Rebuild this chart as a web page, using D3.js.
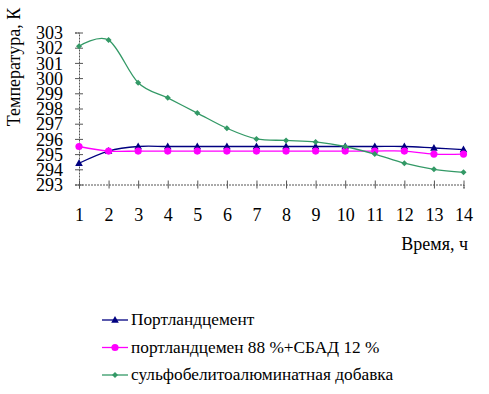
<!DOCTYPE html>
<html>
<head>
<meta charset="utf-8">
<script src="https://cdn.jsdelivr.net/npm/d3@7"></script>
<style>
  body { margin: 0; background: #fff; }
</style>
</head>
<body>
<div id="chart"></div>
<script>
var width = 489,
    height = 394;

var serif = "'Liberation Serif'";

var hours = [1, 2, 3, 4, 5, 6, 7, 8, 9, 10, 11, 12, 13, 14];
var yTicks = [293, 294, 295, 296, 297, 298, 299, 300, 301, 302, 303];

var portland = [294.4, 295.2, 295.5, 295.5, 295.5, 295.5, 295.5, 295.5, 295.5, 295.5, 295.5, 295.5, 295.4, 295.3];
var portlandSbad = [295.5, 295.2, 295.2, 295.2, 295.2, 295.2, 295.2, 295.2, 295.2, 295.2, 295.2, 295.2, 295.0, 295.0];
var sulfo = [302.1, 302.5, 299.7, 298.7, 297.7, 296.7, 296.0, 295.9, 295.8, 295.5, 295.0, 294.4, 294.0, 293.8];

var seriesNames = ["Портландцемент", "портландцемен 88 %+СБАД 12 %", "сульфобелитоалюминатная добавка"];

var series = [
  { name: seriesNames[0], values: portland, color: "#000080", marker: "triangle" },
  { name: seriesNames[1], values: portlandSbad, color: "#ff00ff", marker: "circle" },
  { name: seriesNames[2], values: sulfo, color: "#339966", marker: "diamond" }
];

var x = d3.scaleLinear()
    .domain([1, 14])
    .range([79, 463.5]);

var y = d3.scaleLinear()
    .domain([293, 303])
    .range([184.5, 32.5]);

var svg = d3.select("#chart").append("svg")
    .attr("width", width)
    .attr("height", height);

// axes
var axisColor = "#555";

var gx = svg.append("g")
    .attr("transform", "translate(0," + y(293) + ")")
    .call(d3.axisBottom(x).tickValues(hours).tickSize(4).tickPadding(20).tickFormat(d3.format("d")));
gx.selectAll(".tick line").attr("y1", -4);

var gy = svg.append("g")
    .attr("transform", "translate(" + x(1) + ",0)")
    .call(d3.axisLeft(y).tickValues(yTicks).tickSize(4).tickPadding(12).tickFormat(d3.format("d")));
gy.selectAll(".tick line").attr("x1", 4);

svg.selectAll(".domain").attr("stroke", axisColor).attr("stroke-dasharray", "2,1");
svg.selectAll(".tick line").attr("stroke", axisColor);
svg.selectAll(".tick text")
    .style("font-family", serif)
    .style("font-size", "18px")
    .attr("fill", "#000");
gy.selectAll(".tick text").attr("dy", "0.34em");

// titles
svg.append("text")
    .attr("transform", "translate(20,67) rotate(-90)")
    .attr("text-anchor", "middle")
    .style("font-family", serif)
    .style("font-size", "18px")
    .text("Температура, К");

svg.append("text")
    .attr("x", 468)
    .attr("y", 250)
    .attr("text-anchor", "end")
    .style("font-family", serif)
    .style("font-size", "18px")
    .text("Время, ч");

// lines (smoothed like the original)
var line = d3.line()
    .x(function(d, i) { return x(hours[i]); })
    .y(function(d) { return y(d); })
    .curve(d3.curveCardinal.tension(0));

function drawMarker(g, type, color, cx, cy) {
  if (type == "triangle") {
    g.append("path")
      .attr("d", "M" + cx + "," + (cy - 4) + "L" + (cx + 3.8) + "," + (cy + 2.8) + "L" + (cx - 3.8) + "," + (cy + 2.8) + "Z")
      .attr("fill", color);
  } else if (type == "circle") {
    g.append("circle").attr("cx", cx).attr("cy", cy).attr("r", 3.6).attr("fill", color);
  } else {
    g.append("path")
      .attr("d", "M" + cx + "," + (cy - 3) + "L" + (cx + 3) + "," + cy + "L" + cx + "," + (cy + 3) + "L" + (cx - 3) + "," + cy + "Z")
      .attr("fill", color);
  }
}

series.forEach(function(s) {
  svg.append("path")
    .datum(s.values)
    .attr("fill", "none")
    .attr("stroke", s.color)
    .attr("stroke-width", 1.3)
    .attr("d", line);
  var g = svg.append("g");
  s.values.forEach(function(v, i) {
    drawMarker(g, s.marker, s.color, x(hours[i]), y(v));
  });
});

// legend
var legend = svg.append("g");
series.forEach(function(s, i) {
  var ly = 320 + i * 27.5;
  legend.append("line")
    .attr("x1", 102).attr("x2", 128)
    .attr("y1", ly).attr("y2", ly)
    .attr("stroke", s.color)
    .attr("stroke-width", 1.3);
  drawMarker(legend, s.marker, s.color, 115, ly);
  legend.append("text")
    .attr("x", 131)
    .attr("y", ly + 5)
    .style("font-family", serif)
    .style("font-size", "17.3px")
    .text(s.name);
});
</script>
</body>
</html>
